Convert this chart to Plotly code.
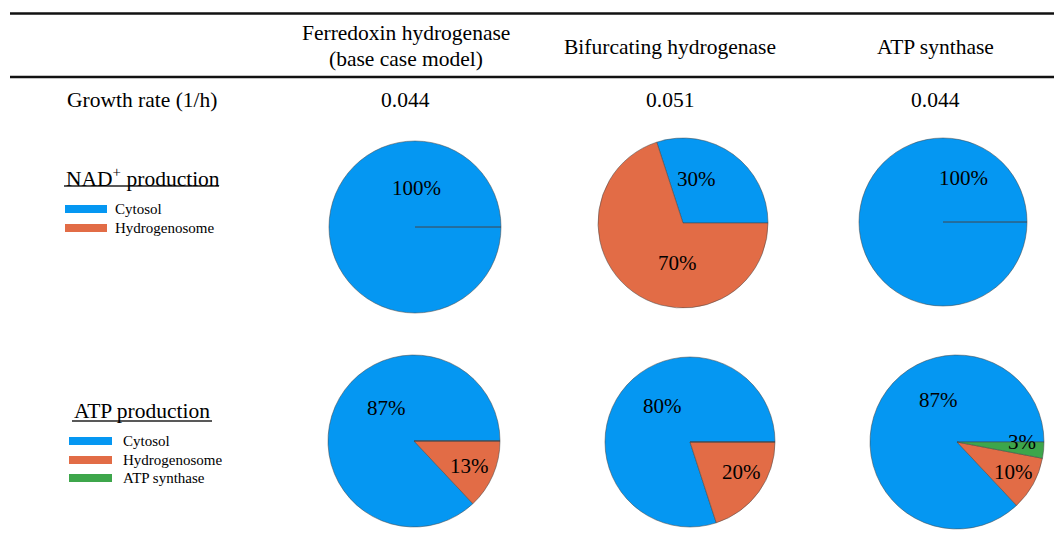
import plotly.graph_objects as go

# ---------------- data ----------------
columns = ["Ferredoxin hydrogenase", "Bifurcating hydrogenase", "ATP synthase"]
column_sub = ["(base case model)", "", ""]
growth_rate = ["0.044", "0.051", "0.044"]

nad_labels = ["Cytosol", "Hydrogenosome"]
nad_values = [
    [100, 0],   # Ferredoxin hydrogenase
    [30, 70],   # Bifurcating hydrogenase
    [100, 0],   # ATP synthase
]

atp_labels = ["Cytosol", "Hydrogenosome", "ATP synthase"]
atp_values = [
    [87, 13, 0],
    [80, 20, 0],
    [87, 10, 3],
]

# ---------------- style / layout ----------------
W, H = 1054, 555
FONT = "Liberation Serif, Times New Roman, serif"
BLUE, ORANGE, GREEN = "#0597F2", "#E26C46", "#3DA64B"
colors = [BLUE, ORANGE, GREEN]

col_x = [405.5, 670, 935]
# pie centres (px) and radius
nad_pies = [(415, 227, 86), (683, 223, 85), (943, 222, 84)]
atp_pies = [(414, 441, 86), (690, 442, 85), (957, 442, 87)]
# label positions (px) per slice
nad_label_pos = [[(416, 188), None], [(696, 179), (677, 263)], [(963, 178), None]]
atp_label_pos = [[(386, 408), (469, 466), None],
                 [(662, 406), (741, 472), None],
                 [(938, 400), (1013, 472), (1022, 442)]]


def px(x):
    return x / W


def py(y):
    return 1 - y / H


fig = go.Figure()
annotations = []
shapes = []


def add_pie(values, labels, centre, label_pos):
    cx, cy, r = centre
    total = sum(values)
    # first slice starts at 3 o'clock and slices run counter-clockwise
    rot = 90 - 360 * values[0] / total
    fig.add_trace(go.Pie(
        values=values, labels=labels, sort=False, direction="counterclockwise",
        rotation=rot, textinfo="none", hoverinfo="label+percent",
        marker=dict(colors=colors[:len(values)],
                    line=dict(color="rgba(70,70,70,0.75)", width=0.7)),
        domain=dict(x=[px(cx - r), px(cx + r)], y=[py(cy + r), py(cy - r)]),
        showlegend=False,
    ))
    for v, pos in zip(values, label_pos):
        if pos is None or v == 0:
            continue
        annotations.append(dict(
            x=px(pos[0]), y=py(pos[1]), xref="paper", yref="paper",
            text=f"{round(100 * v / total)}%", showarrow=False,
            font=dict(family=FONT, size=21, color="black"),
            xanchor="center", yanchor="middle"))
    if max(values) == total:
        # slice border of a full (100 %) pie
        shapes.append(dict(type="line", xref="paper", yref="paper",
                           x0=px(cx), y0=py(cy), x1=px(cx + r), y1=py(cy),
                           line=dict(color="#2a6a9a", width=0.8)))


for i in range(3):
    add_pie(nad_values[i], nad_labels, nad_pies[i], nad_label_pos[i])
    add_pie(atp_values[i], atp_labels, atp_pies[i], atp_label_pos[i])

# table rules
for yy in (13.5, 77):
    shapes.append(dict(type="line", xref="paper", yref="paper",
                       x0=px(10), x1=1, y0=py(yy), y1=py(yy),
                       line=dict(color="#111111", width=2.6)))

# header texts
for i, name in enumerate(columns):
    if column_sub[i]:
        annotations.append(dict(x=px(col_x[i]), y=py(33), text=name))
        annotations.append(dict(x=px(col_x[i]), y=py(59), text=column_sub[i]))
    else:
        annotations.append(dict(x=px(col_x[i]), y=py(47), text=name))
    annotations.append(dict(x=px(col_x[i]), y=py(100), text=growth_rate[i]))
annotations.append(dict(x=px(65), y=py(100), text="Growth rate (1/h)", xanchor="left"))

# row titles (underlined)
annotations.append(dict(x=px(64), y=py(177), text="NAD<sup>+</sup> production",
                        xanchor="left"))
annotations.append(dict(x=px(72), y=py(411), text="ATP production",
                        xanchor="left"))
for x0, x1, yy in ((64, 219, 186), (72, 212, 421)):
    shapes.append(dict(type="line", xref="paper", yref="paper",
                       x0=px(x0), x1=px(x1), y0=py(yy), y1=py(yy),
                       line=dict(color="#222222", width=1.3)))


# custom legends
def legend(labels, x0, x1, ys, tx):
    for lab, yc, c in zip(labels, ys, colors):
        shapes.append(dict(type="rect", xref="paper", yref="paper",
                           x0=px(x0), x1=px(x1), y0=py(yc + 4), y1=py(yc - 4),
                           line=dict(width=0), fillcolor=c))
        annotations.append(dict(x=px(tx), y=py(yc), text=lab, xanchor="left",
                                font=dict(family=FONT, size=15, color="black")))


legend(nad_labels, 65, 107, [209, 228], 113)
legend(atp_labels, 69, 112, [441, 460, 478], 121)

for a in annotations:
    a.setdefault("xref", "paper")
    a.setdefault("yref", "paper")
    a.setdefault("showarrow", False)
    a.setdefault("xanchor", "center")
    a.setdefault("yanchor", "middle")
    a.setdefault("font", dict(family=FONT, size=21.5, color="black"))

fig.update_layout(
    width=W, height=H, margin=dict(l=0, r=0, t=0, b=0),
    paper_bgcolor="white", plot_bgcolor="white",
    annotations=annotations, shapes=shapes,
)

fig.write_html("out.html", config={"displayModeBar": False},
               post_script="document.body.style.margin='0';document.body.style.padding='0';")
